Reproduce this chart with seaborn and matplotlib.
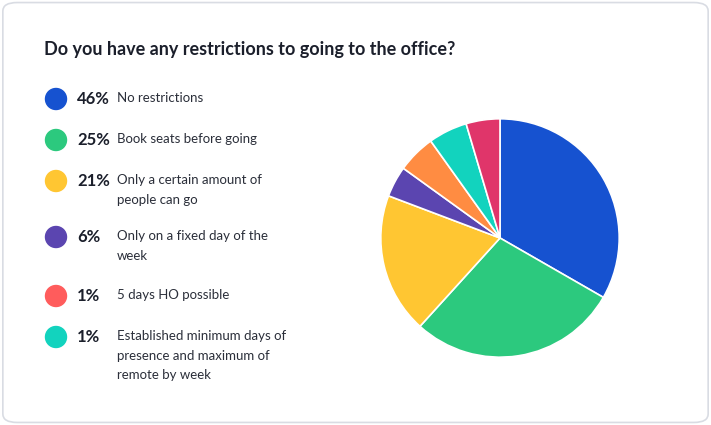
import matplotlib
matplotlib.use('Agg')
import matplotlib.pyplot as plt
from matplotlib.patches import FancyBboxPatch, Circle
import seaborn as sns

sns.set_theme(style='white')
plt.rcParams['font.family'] = 'Lato'

TITLE = 'Do you have any restrictions to going to the office?'

# legend entries
LEG_PCT = ['46%', '25%', '21%', '6%', '1%', '1%']
LEG_LABELS = ['No restrictions', 'Book seats before going',
              'Only a certain amount of\npeople can go',
              'Only on a fixed day of the\nweek', '5 days HO possible',
              'Established minimum days of\npresence and maximum of\nremote by week']
LEG_COLORS = ['#1652D0', '#2CC97E', '#FFC632', '#5B45B0', '#FF5C5C', '#12D3BE']

# pie slices as drawn (clockwise from 12 o'clock)
PIE_VALUES = [33.4, 28.5, 19.1, 4.2, 5.2, 5.3, 4.6]
PIE_COLORS = ['#1652D0', '#2CC97E', '#FFC632', '#5B45B0', '#FF8C42', '#12D3BE', '#E0356A']

fig = plt.figure(figsize=(7.11, 4.25), dpi=100)
fig.patch.set_facecolor('white')
card = FancyBboxPatch((0.004, 0.006), 0.992, 0.988, boxstyle='round,pad=0,rounding_size=0.02',
                      transform=fig.transFigure, facecolor='white', edgecolor='#D9DCE3',
                      lw=1.2, zorder=-5)
fig.patches.append(card)

fig.text(44 / 711, 1 - 50 / 425, TITLE, fontsize=13, fontweight='bold',
         color='#1B1F2B', va='center')

ys = [99, 140, 181, 237, 296, 337]
for y, p, lab, c in zip(ys, LEG_PCT, LEG_LABELS, LEG_COLORS):
    yf = 1 - y / 425
    fig.patches.append(Circle((0.56, 4.25 - y / 100), 0.105,
                              transform=fig.dpi_scale_trans, color=c))
    fig.text(77 / 711, yf, p, fontsize=12, fontweight='bold', color='#1B1F2B', va='center')
    fig.text(117 / 711, yf + 0.016, lab, fontsize=9.5, color='#2B2F3A', va='top',
             linespacing=1.75)

ax = fig.add_axes([(500 - 149) / 711, 1 - (238 + 149) / 425, 298 / 711, 298 / 425])
ax.set_facecolor('none')
ax.pie(PIE_VALUES, colors=PIE_COLORS, startangle=90, counterclock=False,
       wedgeprops=dict(edgecolor='white', linewidth=1.2))
ax.set_aspect('equal')

fig.savefig('out.png', dpi=100)
